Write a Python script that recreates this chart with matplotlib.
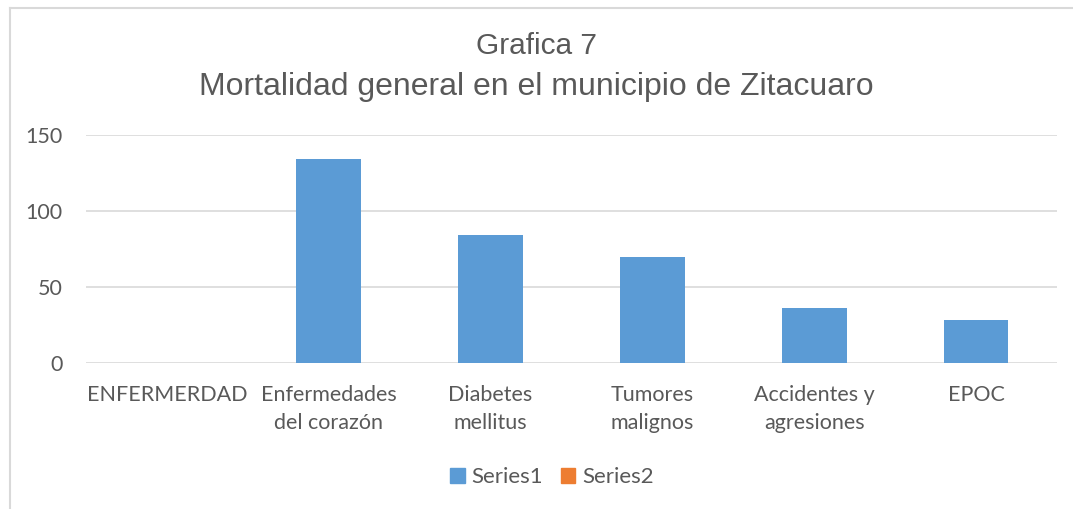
import matplotlib
matplotlib.use('Agg')
import matplotlib.pyplot as plt
import numpy as np
from matplotlib.patches import Patch
from matplotlib.lines import Line2D

# Data
categorias = ['ENFERMERDAD', 'Enfermedades\ndel corazón', 'Diabetes\nmellitus',
              'Tumores\nmalignos', 'Accidentes y\nagresiones', 'EPOC']
series1 = [0, 134, 84, 70, 36, 28]
series2 = [0, 0, 0, 0, 0, 0]
yticks = [0, 50, 100, 150]

azul = '#5B9BD5'
naranja = '#ED7D31'
gris = '#595959'

fig = plt.figure(figsize=(10.73, 5.09), dpi=100)
ax = fig.add_axes([86/1073, 1 - 363/509, (1057-86)/1073, (363-135)/509])

x = np.arange(len(categorias))
ax.bar(x, series1, width=0.4, color=azul, zorder=3)

ax.set_xlim(-0.5, len(categorias) - 0.5)
ax.set_ylim(0, 150)
ax.set_yticks(yticks)
ax.set_xticks(x)
ax.set_xticklabels(categorias, family='Lato', fontsize=15.5, color=gris, linespacing=1.5)
ax.tick_params(axis='y', labelsize=15.5, labelcolor=gris, length=0, pad=17)
ax.tick_params(axis='x', length=0, pad=16)
for t in ax.get_yticklabels():
    t.set_family('Lato')
ax.grid(axis='y', color='#D9D9D9', linewidth=1.2, zorder=0)
for s in ax.spines.values():
    s.set_visible(False)

fig.text(0.5, 1 - 46/509, 'Grafica 7', ha='center', va='center',
         fontsize=21.5, color=gris, family='Liberation Sans')
fig.text(0.5, 1 - 87/509, 'Mortalidad general en el municipio de Zitacuaro',
         ha='center', va='center', fontsize=23, color=gris, family='Liberation Sans')

handles = [Patch(color=azul, label='Series1'), Patch(color=naranja, label='Series2')]
fig.legend(handles=handles, loc='center', bbox_to_anchor=(552/1073, 1 - 477/509),
           ncol=2, frameon=False, handlelength=0.65, handleheight=0.65,
           columnspacing=0.8, handletextpad=0.3,
           prop={'family': 'Lato', 'size': 16}, labelcolor=gris)

# outer chart border (only top and left are visible in the crop)
fig.add_artist(Line2D([10/1073, 10/1073], [0, 1 - 8/509], transform=fig.transFigure,
                      color='#D9D9D9', linewidth=1.5))
fig.add_artist(Line2D([10/1073, 1], [1 - 8/509, 1 - 8/509], transform=fig.transFigure,
                      color='#D9D9D9', linewidth=1.5))

fig.savefig('out.png', dpi=100)
